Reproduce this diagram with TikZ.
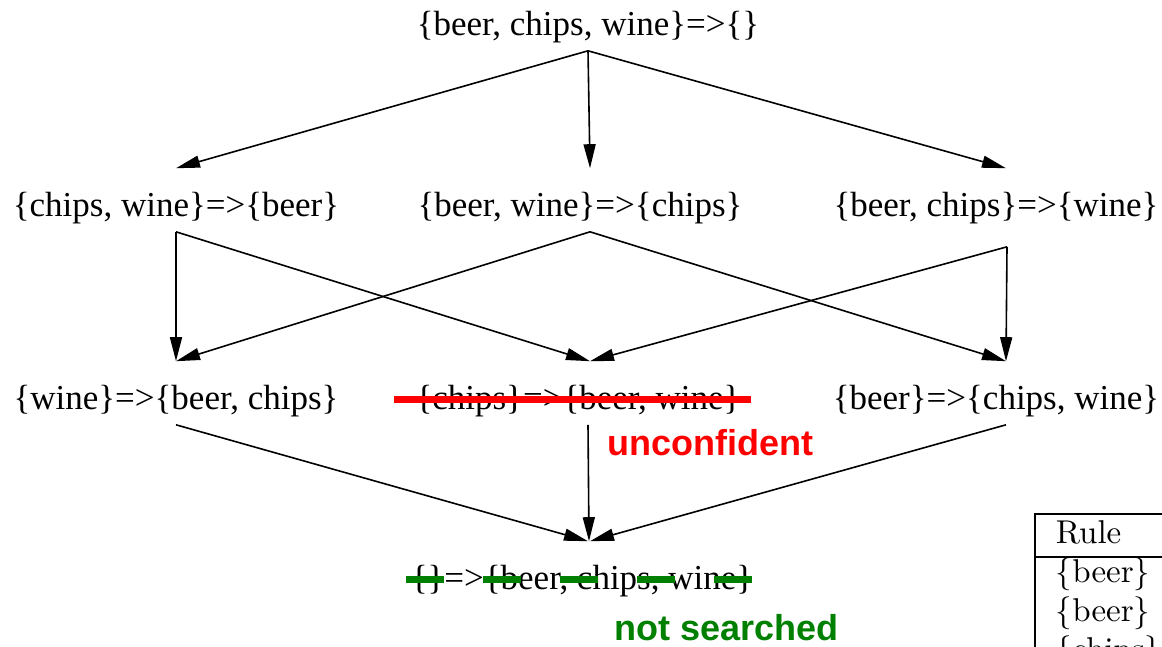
\documentclass[tikz,border=0pt]{standalone}
\usepackage{fontspec}
\newfontfamily\dotfont{Liberation Serif}
\newfontfamily\notefont{Liberation Sans}
\usepackage{graphicx}
\usepackage{tikz}
\usetikzlibrary{arrows.meta}
\definecolor{strikered}{RGB}{255,0,0}
\definecolor{skipgreen}{RGB}{0,128,0}

\tikzset{
	rulenode/.style={font=\dotfont\fontsize{35}{42}\selectfont, inner sep=0pt, anchor=base, text height=47pt, text depth=15pt},
	notetext/.style={font=\notefont\bfseries\fontsize{36}{43}\selectfont, inner sep=0pt, anchor=base west},
	tabtext/.style={inner sep=0pt, anchor=base west}
}
\newcommand{\tabcell}[1]{\scalebox{3.3}{#1}}

\begin{document}
\begin{tikzpicture}[x=1pt, y=-1pt, line width=1.6pt, >={Triangle[length=24pt,width=12pt]}]
		\useasboundingbox (0,0) rectangle (1162,646);
		\clip (0,0) rectangle (1162,646);
		% lattice of rules
		\node[rulenode] (all) at (588,35) {\{beer, chips, wine\}=>\{\}};
		\node[rulenode] (cw) at (176,216) {\{chips, wine\}=>\{beer\}};
		\node[rulenode] (bw) at (580,216) {\{beer, wine\}=>\{chips\}};
		\node[rulenode] (bc) at (996,216) {\{beer, chips\}=>\{wine\}};
		\node[rulenode] (w) at (176,409) {\{wine\}=>\{beer, chips\}};
		\node[rulenode] (c) at (578,409) {\{chips\}=>\{beer, wine\}};
		\node[rulenode] (b) at (996,409) {\{beer\}=>\{chips, wine\}};
		\node[rulenode] (none) at (582,589) {\{\}=>\{beer, chips, wine\}};
		\path[->]
		(all.south) edge (cw.north)
		edge ([xshift=10]bw.north)
		edge ([xshift=10]bc.north)
		(cw.south) edge (w.north)
		edge ([xshift=12]c.north)
		([xshift=10]bw.south) edge (w.north)
		edge ([xshift=10]b.north)
		([xshift=11,yshift=-15]bc.south) edge ([xshift=10]b.north)
		edge ([xshift=12]c.north)
		(w.south) edge ([xshift=6]none.north)
		([xshift=10]c.south) edge ([xshift=7]none.north)
		([xshift=10]b.south) edge ([xshift=8]none.north)
		;
		% pruned rules
		\draw[strikered, line width=7pt] (394,399) -- (751,399);
		\draw[skipgreen, line width=7pt, dash pattern=on 38pt off 39pt] (406,579) -- (752,579);
		\node[notetext, text=strikered] (unconf) at (607,455) {unconfident};
		\node[notetext, text=skipgreen] (skipped) at (614,640) {not searched};
		% table at the edge
		\draw[line width=1.6pt] (1035,660) -- (1035,514) -- (1175,514);
		\draw[line width=1.6pt] (1035,557) -- (1175,557);
		\node[tabtext] (head) at (1055,543) {\tabcell{Rule}};
		\node[tabtext] (row1) at (1055,582) {\tabcell{$\{$beer$\}$ $\Rightarrow$}};
		\node[tabtext] (row2) at (1055,621) {\tabcell{$\{$beer$\}$ $\Rightarrow$}};
		\node[tabtext] (row3) at (1055,660) {\tabcell{$\{$chips$\}$ $\Rightarrow$}};
\end{tikzpicture}
\end{document}
